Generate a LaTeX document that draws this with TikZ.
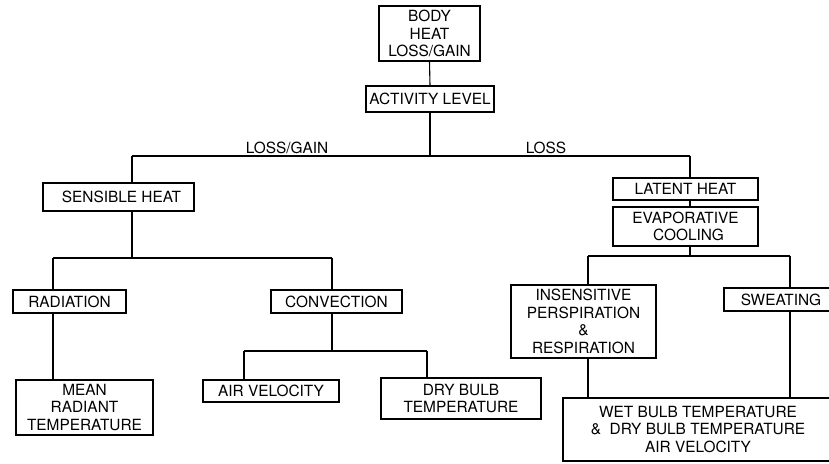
\documentclass[tikz,border=0pt]{standalone}
\usepackage{fontspec}
\setmainfont{TeX Gyre Heros}
\begin{document}
\begin{tikzpicture}[x=1pt,y=-1pt,
  box/.style={draw,line width=1.1pt,inner sep=0pt,align=center,anchor=center,
    font=\fontsize{15.4}{17.5}\selectfont},
  lbl/.style={inner sep=0pt,font=\fontsize{15.4}{17.5}\selectfont},
  conn/.style={line width=1.1pt}]
\useasboundingbox (0,0) rectangle (829,463);
\clip (0,0) rectangle (829,463);
% boxes
\node[box,minimum width=101pt,minimum height=55pt] (body) at (429.5,33.5) {BODY\\HEAT\\LOSS/GAIN};
\node[box,minimum width=128pt,minimum height=26pt] (act) at (430,99) {ACTIVITY LEVEL};
\node[box,minimum width=151pt,minimum height=28pt] (sens) at (118.5,197) {\hspace*{6pt}SENSIBLE HEAT};
\node[box,minimum width=145pt,minimum height=22pt] (lat) at (685.5,189) {LATENT HEAT};
\node[box,minimum width=145pt,minimum height=39pt] (evap) at (685.5,226.5) {EVAPORATIVE\\\hspace*{6pt}COOLING};
\node[box,minimum width=113pt,minimum height=23pt] (rad) at (69.5,301.5) {RADIATION};
\node[box,minimum width=131pt,minimum height=23pt] (conv) at (336.5,301.5) {CONVECTION};
\node[box,minimum width=145pt,minimum height=73pt] (insens) at (583.5,321.5) {INSENSITIVE\\PERSPIRATION\\\&\\RESPIRATION};
\node[box,minimum width=114pt,minimum height=23pt] (sweat) at (781,299.5) {SWEATING};
\node[box,minimum width=137pt,minimum height=55pt] (mean) at (84.5,407.5) {MEAN\\RADIANT\\TEMPERATURE};
\node[box,minimum width=136pt,minimum height=22pt] (airv) at (271,391) {AIR VELOCITY};
\node[box,minimum width=160pt,minimum height=41pt] (dry) at (461,398.5) {DRY BULB\\TEMPERATURE};
\node[box,minimum width=270pt,minimum height=63pt] (wet) at (698,429.5) {WET BULB TEMPERATURE\\\&~~DRY BULB TEMPERATURE\\AIR VELOCITY};
% labels
\node[lbl] (lg) at (287,148) {LOSS/GAIN};
\node[lbl] (ls) at (546,148) {LOSS};
% junction coordinates
\coordinate (h0l) at (132,156);
\coordinate (h0r) at (690,156);
\coordinate (h1l) at (53,258);
\coordinate (h1r) at (332,258);
\coordinate (h2l) at (244,351);
\coordinate (h2r) at (427,351);
\coordinate (h3l) at (588,256);
\coordinate (h3r) at (790,256);
% connectors
\draw[conn] (body.south) -- (act.north);
\draw[conn] (act.south) -- (act.south |- h0l);
\draw[conn] (h0l) -- (h0r);
\draw[conn] (h0l) -- (h0l |- sens.north);
\draw[conn] (h0r) -- (h0r |- lat.north);
\draw[conn] (h0r |- lat.south) -- (h0r |- evap.north);
% sensible branch
\draw[conn] (h0l |- sens.south) -- (h0l |- h1l);
\draw[conn] (h1l) -- (h1r);
\draw[conn] (h1l) -- (h1l |- rad.north);
\draw[conn] (h1r) -- (h1r |- conv.north);
\draw[conn] (h1l |- rad.south) -- (h1l |- mean.north);
\draw[conn] (h1r |- conv.south) -- (h1r |- h2l);
\draw[conn] (h2l) -- (h2r);
\draw[conn] (h2l) -- (h2l |- airv.north);
\draw[conn] (h2r) -- (h2r |- dry.north);
% latent branch
\draw[conn] (h0r |- evap.south) -- (h0r |- h3l);
\draw[conn] (h3l) -- (h3r);
\draw[conn] (h3l) -- (h3l |- insens.north);
\draw[conn] (h3r) -- (h3r |- sweat.north);
\draw[conn] (h3l |- insens.south) -- (h3l |- wet.north);
\draw[conn] (h3r |- sweat.south) -- (h3r |- wet.north);
\end{tikzpicture}
\end{document}
